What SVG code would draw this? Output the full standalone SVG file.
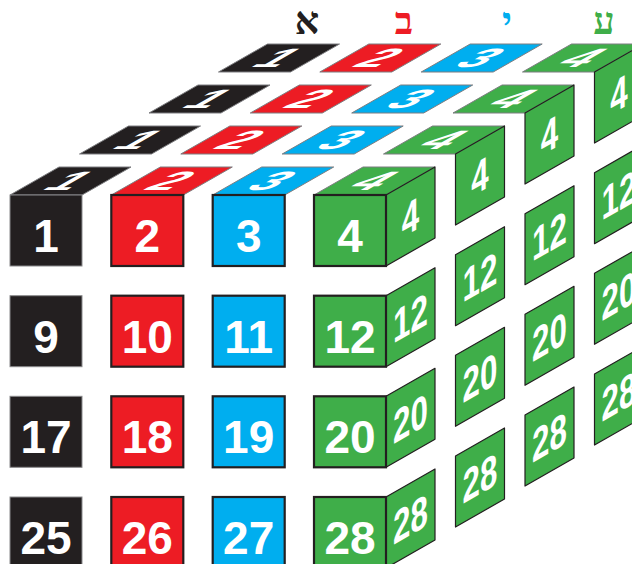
<svg xmlns="http://www.w3.org/2000/svg" width="632" height="564" viewBox="0 0 632 564">
<defs>
<style>
.k{fill:#231f20}.r{fill:#ed1c24}.b{fill:#00aeef}.g{fill:#3fae49}
.fr{stroke:#231f20;stroke-width:2.2}
.frk{stroke:#8a8a8c;stroke-width:1}
.tp{stroke:#7d7d80;stroke-width:1;stroke-linejoin:round}
.sd{stroke:#231f20;stroke-width:1.2;stroke-linejoin:round}
.n{font-family:"Liberation Sans",Arial,sans-serif;font-weight:bold;font-size:46px;fill:#fff;text-anchor:middle}
.t{font-family:"Liberation Sans",Arial,sans-serif;font-weight:bold;font-size:48px;fill:#fff;text-anchor:middle}
.heb{font-family:"Liberation Serif","DejaVu Sans",serif;font-weight:bold;font-size:38px;text-anchor:middle}
</style>
<rect id="front" x="0" y="0" width="72" height="71"/>
<polygon id="top" points="0,0 72,0 121,-28 49,-28"/>
<polygon id="side" points="72,0 121,-28 121,43 72,71"/>
</defs>

<g id="letters">
<text class="heb" x="307" y="34" fill="#231f20">א</text>
<text class="heb" x="404" y="34" fill="#ed1c24">ב</text>
<text class="heb" x="507" y="34" fill="#00aeef">י</text>
<text class="heb" x="604" y="34" fill="#3fae49">ע</text>
</g>

<!-- depth 3 -->
<g id="c-0-0-3" transform="translate(218.5,72)"><use href="#top" class="k tp"/><text class="t" transform="translate(60.5,-14) matrix(1.05,0,-0.96,0.55,0,0)" y="17">1</text></g>
<g id="c-1-0-3" transform="translate(319.8,72)"><use href="#top" class="r tp"/><text class="t" transform="translate(60.5,-14) matrix(1.05,0,-0.96,0.55,0,0)" y="17">2</text></g>
<g id="c-2-0-3" transform="translate(421.2,72)"><use href="#top" class="b tp"/><text class="t" transform="translate(60.5,-14) matrix(1.05,0,-0.96,0.55,0,0)" y="17">3</text></g>
<g id="c-3-0-3" transform="translate(522.5,72)"><use href="#top" class="g tp"/><use href="#side" class="g sd"/><text class="t" transform="translate(60.5,-14) matrix(1.05,0,-0.96,0.55,0,0)" y="17">4</text><text class="n" transform="translate(96.5,21.5) matrix(0.68,-0.39,0,1,0,0)" y="16.5">4</text></g>
<g id="c-3-1-3" transform="translate(522.5,172.7)"><use href="#side" class="g sd"/><text class="n" transform="translate(96.5,21.5) matrix(0.68,-0.39,0,1,0,0)" y="16.5">12</text></g>
<g id="c-3-2-3" transform="translate(522.5,273.3)"><use href="#side" class="g sd"/><text class="n" transform="translate(96.5,21.5) matrix(0.68,-0.39,0,1,0,0)" y="16.5">20</text></g>
<g id="c-3-3-3" transform="translate(522.5,374)"><use href="#side" class="g sd"/><text class="n" transform="translate(96.5,21.5) matrix(0.68,-0.39,0,1,0,0)" y="16.5">28</text></g>

<!-- depth 2 -->
<g id="c-0-0-2" transform="translate(149,113)"><use href="#top" class="k tp"/><text class="t" transform="translate(60.5,-14) matrix(1.05,0,-0.96,0.55,0,0)" y="17">1</text></g>
<g id="c-1-0-2" transform="translate(250.3,113)"><use href="#top" class="r tp"/><text class="t" transform="translate(60.5,-14) matrix(1.05,0,-0.96,0.55,0,0)" y="17">2</text></g>
<g id="c-2-0-2" transform="translate(351.7,113)"><use href="#top" class="b tp"/><text class="t" transform="translate(60.5,-14) matrix(1.05,0,-0.96,0.55,0,0)" y="17">3</text></g>
<g id="c-3-0-2" transform="translate(453,113)"><use href="#top" class="g tp"/><use href="#side" class="g sd"/><text class="t" transform="translate(60.5,-14) matrix(1.05,0,-0.96,0.55,0,0)" y="17">4</text><text class="n" transform="translate(96.5,21.5) matrix(0.68,-0.39,0,1,0,0)" y="16.5">4</text></g>
<g id="c-3-1-2" transform="translate(453,213.7)"><use href="#side" class="g sd"/><text class="n" transform="translate(96.5,21.5) matrix(0.68,-0.39,0,1,0,0)" y="16.5">12</text></g>
<g id="c-3-2-2" transform="translate(453,314.3)"><use href="#side" class="g sd"/><text class="n" transform="translate(96.5,21.5) matrix(0.68,-0.39,0,1,0,0)" y="16.5">20</text></g>
<g id="c-3-3-2" transform="translate(453,415)"><use href="#side" class="g sd"/><text class="n" transform="translate(96.5,21.5) matrix(0.68,-0.39,0,1,0,0)" y="16.5">28</text></g>

<!-- depth 1 -->
<g id="c-0-0-1" transform="translate(79.5,154)"><use href="#top" class="k tp"/><text class="t" transform="translate(60.5,-14) matrix(1.05,0,-0.96,0.55,0,0)" y="17">1</text></g>
<g id="c-1-0-1" transform="translate(180.8,154)"><use href="#top" class="r tp"/><text class="t" transform="translate(60.5,-14) matrix(1.05,0,-0.96,0.55,0,0)" y="17">2</text></g>
<g id="c-2-0-1" transform="translate(282.2,154)"><use href="#top" class="b tp"/><text class="t" transform="translate(60.5,-14) matrix(1.05,0,-0.96,0.55,0,0)" y="17">3</text></g>
<g id="c-3-0-1" transform="translate(383.5,154)"><use href="#top" class="g tp"/><use href="#side" class="g sd"/><text class="t" transform="translate(60.5,-14) matrix(1.05,0,-0.96,0.55,0,0)" y="17">4</text><text class="n" transform="translate(96.5,21.5) matrix(0.68,-0.39,0,1,0,0)" y="16.5">4</text></g>
<g id="c-3-1-1" transform="translate(383.5,254.7)"><use href="#side" class="g sd"/><text class="n" transform="translate(96.5,21.5) matrix(0.68,-0.39,0,1,0,0)" y="16.5">12</text></g>
<g id="c-3-2-1" transform="translate(383.5,355.3)"><use href="#side" class="g sd"/><text class="n" transform="translate(96.5,21.5) matrix(0.68,-0.39,0,1,0,0)" y="16.5">20</text></g>
<g id="c-3-3-1" transform="translate(383.5,456)"><use href="#side" class="g sd"/><text class="n" transform="translate(96.5,21.5) matrix(0.68,-0.39,0,1,0,0)" y="16.5">28</text></g>

<!-- depth 0 -->
<g id="c-0-0-0" transform="translate(10,195)"><use href="#top" class="k tp"/><use href="#front" class="k frk"/><text class="t" transform="translate(60.5,-14) matrix(1.05,0,-0.96,0.55,0,0)" y="17">1</text><text class="n" x="36" y="57">1</text></g>
<g id="c-1-0-0" transform="translate(111.3,195)"><use href="#top" class="r tp"/><use href="#front" class="r fr"/><text class="t" transform="translate(60.5,-14) matrix(1.05,0,-0.96,0.55,0,0)" y="17">2</text><text class="n" x="36" y="57">2</text></g>
<g id="c-2-0-0" transform="translate(212.7,195)"><use href="#top" class="b tp"/><use href="#front" class="b fr"/><text class="t" transform="translate(60.5,-14) matrix(1.05,0,-0.96,0.55,0,0)" y="17">3</text><text class="n" x="36" y="57">3</text></g>
<g id="c-3-0-0" transform="translate(314,195)"><use href="#top" class="g tp"/><use href="#side" class="g sd"/><use href="#front" class="g fr"/><text class="t" transform="translate(60.5,-14) matrix(1.05,0,-0.96,0.55,0,0)" y="17">4</text><text class="n" transform="translate(96.5,21.5) matrix(0.68,-0.39,0,1,0,0)" y="16.5">4</text><text class="n" x="36" y="57">4</text></g>

<g id="c-0-1-0" transform="translate(10,295.7)"><use href="#front" class="k frk"/><text class="n" x="36" y="57">9</text></g>
<g id="c-1-1-0" transform="translate(111.3,295.7)"><use href="#front" class="r fr"/><text class="n" x="36" y="57">10</text></g>
<g id="c-2-1-0" transform="translate(212.7,295.7)"><use href="#front" class="b fr"/><text class="n" x="36" y="57">11</text></g>
<g id="c-3-1-0" transform="translate(314,295.7)"><use href="#side" class="g sd"/><use href="#front" class="g fr"/><text class="n" transform="translate(96.5,21.5) matrix(0.68,-0.39,0,1,0,0)" y="16.5">12</text><text class="n" x="36" y="57">12</text></g>

<g id="c-0-2-0" transform="translate(10,396.3)"><use href="#front" class="k frk"/><text class="n" x="36" y="57">17</text></g>
<g id="c-1-2-0" transform="translate(111.3,396.3)"><use href="#front" class="r fr"/><text class="n" x="36" y="57">18</text></g>
<g id="c-2-2-0" transform="translate(212.7,396.3)"><use href="#front" class="b fr"/><text class="n" x="36" y="57">19</text></g>
<g id="c-3-2-0" transform="translate(314,396.3)"><use href="#side" class="g sd"/><use href="#front" class="g fr"/><text class="n" transform="translate(96.5,21.5) matrix(0.68,-0.39,0,1,0,0)" y="16.5">20</text><text class="n" x="36" y="57">20</text></g>

<g id="c-0-3-0" transform="translate(10,497)"><use href="#front" class="k frk"/><text class="n" x="36" y="57">25</text></g>
<g id="c-1-3-0" transform="translate(111.3,497)"><use href="#front" class="r fr"/><text class="n" x="36" y="57">26</text></g>
<g id="c-2-3-0" transform="translate(212.7,497)"><use href="#front" class="b fr"/><text class="n" x="36" y="57">27</text></g>
<g id="c-3-3-0" transform="translate(314,497)"><use href="#side" class="g sd"/><use href="#front" class="g fr"/><text class="n" transform="translate(96.5,21.5) matrix(0.68,-0.39,0,1,0,0)" y="16.5">28</text><text class="n" x="36" y="57">28</text></g>
</svg>
